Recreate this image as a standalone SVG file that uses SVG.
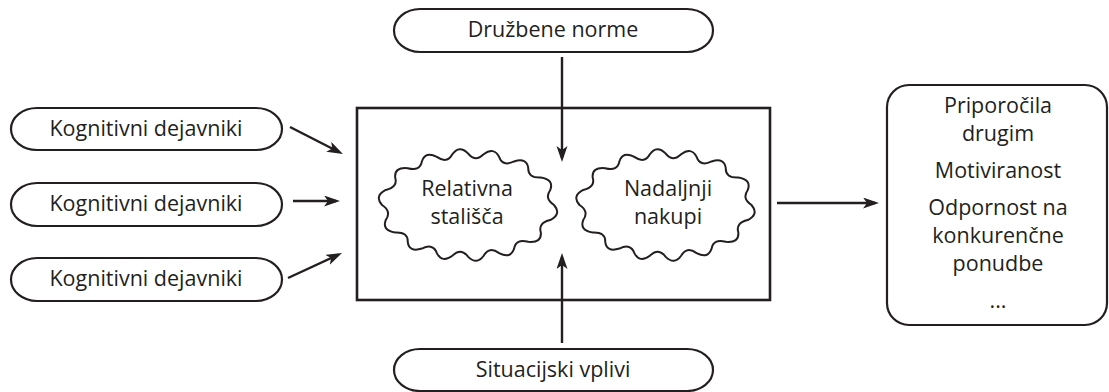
<svg xmlns="http://www.w3.org/2000/svg" width="1109" height="392" viewBox="0 0 1109 392">
<style>
.box{fill:#fff;stroke:#231f20;stroke-width:2.2}
.cloud{fill:#fff;stroke:#231f20;stroke-width:2}
.t{font-family:"Open Sans","Noto Sans",sans-serif;font-size:21.5px;fill:#231f20;text-anchor:middle}
.edge{stroke:#231f20;stroke-width:2.4;fill:none;marker-end:url(#arr)}
</style>
<defs>
<marker id="arr" markerUnits="userSpaceOnUse" markerWidth="18" markerHeight="12" refX="12" refY="5.5" orient="auto">
<path d="M0,0 L16,5.5 L0,11 L4,5.5 Z" fill="#231f20"/>
</marker>
<path id="cloudShape" d="M86,0 Q93.92,9.09 82.26,15.04 Q69.89,17.88 72.82,27.45 Q73.81,38.15 60.27,36.81 Q47.77,33.41 46.13,43.55 Q42.76,54.11 31.13,48.1 Q20.98,40.99 15.66,50.74 Q8.66,60.35 0,51.6 Q-7.02,42.42 -15.66,50.74 Q-25.88,58.31 -31.13,48.1 Q-34.66,38.04 -46.13,43.55 Q-58.93,47.53 -60.27,36.81 Q-59.82,26.82 -72.82,27.45 Q-86.22,25.44 -82.26,15.04 Q-76.13,6.39 -86,0 Q-93.92,-9.09 -82.26,-15.04 Q-69.89,-17.88 -72.82,-27.45 Q-73.81,-38.15 -60.27,-36.81 Q-47.77,-33.41 -46.13,-43.55 Q-42.76,-54.11 -31.13,-48.1 Q-20.98,-40.99 -15.66,-50.74 Q-8.66,-60.35 0,-51.6 Q7.02,-42.42 15.66,-50.74 Q25.88,-58.31 31.13,-48.1 Q34.66,-38.04 46.13,-43.55 Q58.93,-47.53 60.27,-36.81 Q59.82,-26.82 72.82,-27.45 Q86.22,-25.44 82.26,-15.04 Q76.13,-6.39 86,0 Z"/>
</defs>

<g id="druzbene-norme">
<rect class="box" x="394" y="9" width="319" height="43" rx="26" ry="21.5"/>
<text class="t" x="553" y="37">Družbene norme</text>
</g>

<g id="situacijski-vplivi">
<rect class="box" x="394" y="349" width="319" height="42" rx="26" ry="21"/>
<text class="t" x="553" y="377">Situacijski vplivi</text>
</g>

<g id="kognitivni-1">
<rect class="box" x="11" y="108" width="271" height="42" rx="26" ry="21"/>
<text class="t" x="146" y="136">Kognitivni dejavniki</text>
</g>
<g id="kognitivni-2">
<rect class="box" x="11" y="183" width="271" height="43" rx="26" ry="21.5"/>
<text class="t" x="146" y="211">Kognitivni dejavniki</text>
</g>
<g id="kognitivni-3">
<rect class="box" x="11" y="258" width="271" height="43" rx="26" ry="21.5"/>
<text class="t" x="146" y="286">Kognitivni dejavniki</text>
</g>

<g id="okvir">
<rect x="357" y="108" width="413" height="192" fill="#fff" stroke="#231f20" stroke-width="2.6"/>
</g>

<g id="relativna-stalisca">
<use href="#cloudShape" class="cloud" transform="translate(468,205)"/>
<text class="t" x="467" y="195.5">Relativna<tspan x="467" dy="28">stališča</tspan></text>
</g>

<g id="nadaljnji-nakupi">
<use href="#cloudShape" class="cloud" transform="translate(665.5,205)"/>
<text class="t" x="668" y="195.5">Nadaljnji<tspan x="668" dy="28">nakupi</tspan></text>
</g>

<g id="izidi">
<rect class="box" x="887" y="85" width="220" height="240" rx="22" ry="22"/>
<text class="t" x="998" y="113">Priporočila<tspan x="998" dy="28">drugim</tspan></text>
<text class="t" x="998" y="178">Motiviranost</text>
<text class="t" x="998" y="215">Odpornost na<tspan x="998" dy="28">konkurenčne</tspan><tspan x="998" dy="28">ponudbe</tspan></text>
<text class="t" x="998" y="308">...</text>
</g>

<g id="connectors">
<line class="edge" x1="290" y1="127" x2="339.4" y2="152.2"/>
<line class="edge" x1="293" y1="201" x2="336" y2="201"/>
<line class="edge" x1="288" y1="278" x2="338.4" y2="254.7"/>
<line class="edge" x1="562" y1="57" x2="562" y2="158"/>
<line class="edge" x1="562" y1="343" x2="562" y2="257"/>
<line class="edge" x1="777" y1="203" x2="875" y2="203"/>
</g>
</svg>
